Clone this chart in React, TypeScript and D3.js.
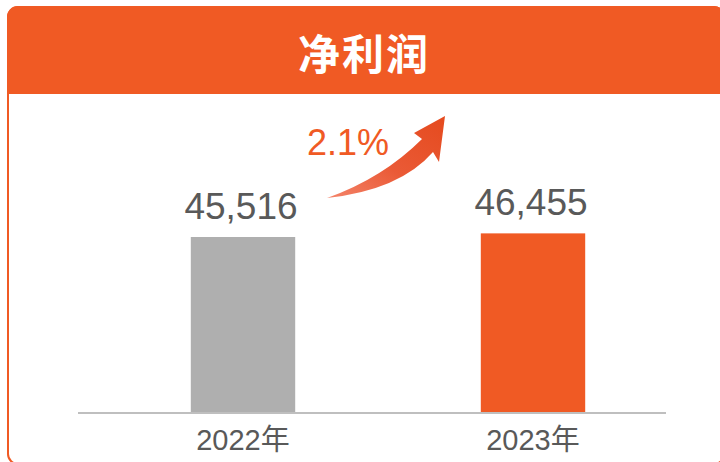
import React, { useEffect, useRef } from "react";
import * as d3 from "d3";

const title = "净利润";
const categories = ["2022年", "2023年"];
const values = [45516, 46455];
const barColors = ["#afafaf", "#f05a24"];

const App: React.FC = () => {
  const svgRef = useRef<SVGSVGElement | null>(null);

  useEffect(() => {
    const width = 720;
    const height = 462;
    const orange = "#f05a24";
    const textGray = "#595959";
    const baseY = 413;

    const svg = d3.select(svgRef.current);
    svg.selectAll("*").remove();
    svg.attr("viewBox", [0, 0, width, height]).attr("width", width).attr("height", height);

    const defs = svg.append("defs");
    const grad = defs
      .append("linearGradient")
      .attr("id", "arrowGrad")
      .attr("x1", "0%")
      .attr("y1", "100%")
      .attr("x2", "100%")
      .attr("y2", "0%");
    grad.append("stop").attr("offset", "0%").attr("stop-color", "#f4846a");
    grad.append("stop").attr("offset", "45%").attr("stop-color", "#ea5a36");
    grad.append("stop").attr("offset", "100%").attr("stop-color", "#e54a1e");

    // panel
    const px = 8, py = 7, pw = 716, ph = 457, r = 10, headH = 87;
    svg
      .append("rect")
      .attr("x", px)
      .attr("y", py)
      .attr("width", pw)
      .attr("height", ph)
      .attr("rx", r)
      .attr("fill", "#fff")
      .attr("stroke", orange)
      .attr("stroke-width", 2);

    const hp = d3.path();
    hp.moveTo(px - 1, py + headH);
    hp.lineTo(px - 1, py + r);
    hp.arcTo(px - 1, py - 1, px + r, py - 1, r + 1);
    hp.lineTo(px + pw - r, py - 1);
    hp.arcTo(px + pw + 1, py - 1, px + pw + 1, py + r, r + 1);
    hp.lineTo(px + pw + 1, py + headH);
    hp.closePath();
    svg.append("path").attr("d", hp.toString()).attr("fill", orange);

    svg
      .append("text")
      .attr("x", 364)
      .attr("y", 51)
      .attr("text-anchor", "middle")
      .attr("dominant-baseline", "central")
      .attr("fill", "#fff")
      .attr("font-family", "'Noto Sans CJK SC', sans-serif")
      .attr("font-weight", 700)
      .attr("font-size", 42)
      .attr("letter-spacing", 2)
      .text(title);

    // scales
    const x = d3
      .scaleBand<string>()
      .domain(categories)
      .range([98, 678])
      .paddingInner(0.64)
      .paddingOuter(0.32);

    const y = d3.scaleLinear().domain([0, 60000]).range([baseY, baseY - 232]);

    svg
      .selectAll(".bar")
      .data(values)
      .enter()
      .append("rect")
      .attr("class", "bar")
      .attr("x", (_, i) => x(categories[i]) as number)
      .attr("y", (d) => y(d))
      .attr("width", x.bandwidth())
      .attr("height", (d) => y(0) - y(d))
      .attr("fill", (_, i) => barColors[i]);

    svg
      .selectAll(".val")
      .data(values)
      .enter()
      .append("text")
      .attr("class", "val")
      .attr("x", (_, i) => (x(categories[i]) as number) + x.bandwidth() / 2 - 2)
      .attr("y", (d) => y(d) - 18)
      .attr("text-anchor", "middle")
      .attr("fill", textGray)
      .attr("font-family", "Arial, 'Liberation Sans', sans-serif")
      .attr("font-size", 37)
      .text((d) => d3.format(",")(d));

    // axis line
    svg
      .append("line")
      .attr("x1", 78)
      .attr("x2", 666)
      .attr("y1", baseY)
      .attr("y2", baseY)
      .attr("stroke", "#bfbfbf")
      .attr("stroke-width", 2);

    svg
      .selectAll(".cat")
      .data(categories)
      .enter()
      .append("text")
      .attr("class", "cat")
      .attr("x", (d) => (x(d) as number) + x.bandwidth() / 2)
      .attr("y", 450)
      .attr("text-anchor", "middle")
      .attr("fill", textGray)
      .attr("font-family", "'Liberation Sans', 'Noto Sans CJK SC', sans-serif")
      .attr("font-size", 29)
      .text((d) => d);

    // growth arrow
    const ap = d3.path();
    ap.moveTo(327, 198);
    ap.quadraticCurveTo(400, 190, 433, 152);
    ap.lineTo(439, 162);
    ap.lineTo(445, 116);
    ap.lineTo(414, 133);
    ap.lineTo(422, 139);
    ap.quadraticCurveTo(383, 178, 327, 198);
    ap.closePath();
    svg.append("path").attr("d", ap.toString()).attr("fill", "url(#arrowGrad)");

    const growth = (values[1] - values[0]) / values[0];
    svg
      .append("text")
      .attr("x", 348)
      .attr("y", 155)
      .attr("text-anchor", "middle")
      .attr("fill", orange)
      .attr("font-family", "Arial, 'Liberation Sans', sans-serif")
      .attr("font-size", 36)
      .text(d3.format(".1%")(growth));
  }, []);

  return (
    <div style={{ position: "absolute", left: 0, top: 0, width: 720, height: 462 }}>
      <svg ref={svgRef}></svg>
    </div>
  );
};

export default App;
